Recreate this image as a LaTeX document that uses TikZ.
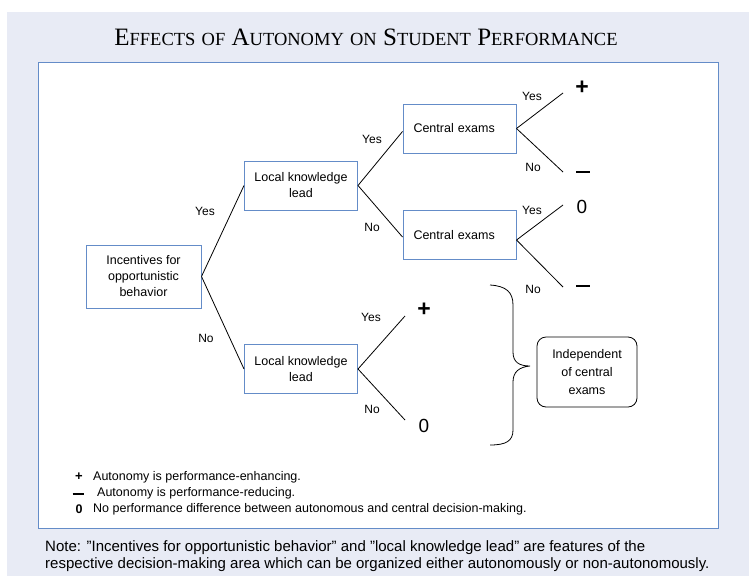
\documentclass[tikz,border=0pt]{standalone}
\usepackage{fontspec}
\setmainfont{Liberation Sans}
\newfontfamily\titlefont{Liberation Serif}
\usetikzlibrary{calc}

\definecolor{pagebg}{RGB}{232,235,245}
\definecolor{boxblue}{RGB}{100,140,200}

\newcommand{\capsword}[2]{{\fontsize{25}{25}\selectfont #1}{\fontsize{18.5}{20}\selectfont #2}}

\begin{document}
\begin{tikzpicture}[x=1pt,y=-1pt,
	box/.style={draw=boxblue,line width=1pt,minimum width=113pt,minimum height=49pt,align=center,inner sep=2pt,font=\fontsize{12.5}{16}\selectfont},
	lbl/.style={font=\fontsize{12}{14}\selectfont,inner sep=0pt},
	sym/.style={font=\fontsize{19}{19}\selectfont,inner sep=0pt},
	branch/.style={line width=0.8pt}]
	\useasboundingbox (0,0) rectangle (749,576);
	\fill[pagebg] (7,12) rectangle (749,576);
	\draw[boxblue,fill=white,line width=1pt] (38,62) rectangle (718,528);
	\node (title) at (366,37) {\titlefont\fontsize{25}{25}\selectfont\capsword{E}{FFECTS} \capsword{}{OF} \capsword{A}{UTONOMY} \capsword{}{ON} \capsword{S}{TUDENT} \capsword{P}{ERFORMANCE}};
	% decision boxes
	\draw (143.5,276.5) node (incent) [box,minimum width=115pt,minimum height=63pt] {Incentives for\\opportunistic\\behavior};
	\draw (301,185.5) node (localyes) [box] {Local knowledge\\lead};
	\draw (301,369) node (localno) [box] {Local knowledge\\lead};
	\draw (459.5,128.5) node (examyes) [box,text width=92pt,inner xsep=10pt,align=left] {Central exams};
	\draw (459.5,235) node (examno) [box,text width=92pt,inner xsep=10pt,align=left] {Central exams};
	\draw (587,372) node (indep) [draw,rounded corners=9pt,line width=0.8pt,minimum width=100pt,minimum height=70pt,align=center,font=\fontsize{12.5}{18}\selectfont] {Independent\\of central\\exams};
	% branch ends
	\coordinate (e1) at (563,93);
	\coordinate (e2) at (563,172);
	\coordinate (e3) at (563,205);
	\coordinate (e4) at (563,287);
	\coordinate (e5) at (405,316);
	\coordinate (e6) at (405,420);
	\path[branch] (incent.east) edge (localyes.west);
	\path[branch] (incent.east) edge (localno.west);
	\path[branch] (localyes.east) edge ($(examyes.west)+(0,3)$);
	\path[branch] (localyes.east) edge ($(examno.west)+(0,2)$);
	\path[branch] (examyes.east) edge (e1);
	\path[branch] (examyes.east) edge (e2);
	\path[branch] ($(examno.east)+(0,5)$) edge (e3);
	\path[branch] ($(examno.east)+(0,5)$) edge (e4);
	\path[branch] (localno.east) edge (e5);
	\path[branch] (localno.east) edge (e6);
	% yes/no labels
	\node[lbl] (l1) at (205,211) {Yes};
	\node[lbl] (l2) at (206,338) {No};
	\node[lbl] (l3) at (372,139) {Yes};
	\node[lbl] (l4) at (372,227) {No};
	\node[lbl] (l5) at (532,96) {Yes};
	\node[lbl] (l6) at (533,167) {No};
	\node[lbl] (l7) at (532,210) {Yes};
	\node[lbl] (l8) at (533,289) {No};
	\node[lbl] (l9) at (371,317) {Yes};
	\node[lbl] (l10) at (372,409) {No};
	% outcomes
	\node[sym,font=\bfseries\fontsize{23}{23}\selectfont] (s1) at (582,88) {+};
	\node[sym] (s2) at (583,172) {\rule{14pt}{2.2pt}};
	\node[sym] (s3) at (582,207) {0};
	\node[sym] (s4) at (583,286) {\rule{14pt}{2.2pt}};
	\node[sym,font=\bfseries\fontsize{23}{23}\selectfont] (s5) at (424,310) {+};
	\node[sym] (s6) at (424,426) {0};
	% brace
	\draw[line width=0.8pt] (490,285) .. controls (506,286) and (513,292) .. (513,305) -- (513,352)
		.. controls (513,362) and (519,366) .. (530,366) .. controls (519,367) and (513,372) .. (513,382)
		-- (513,430) .. controls (513,441) and (506,445) .. (490,445);
	% legend
	\node[lbl,font=\bfseries\fontsize{13}{14}\selectfont] (k1) at (79,477) {+};
	\node[lbl] (k2) at (78,494) {\rule{11pt}{1.8pt}};
	\node[lbl,font=\bfseries\fontsize{12.5}{14}\selectfont] (k3) at (79,509) {0};
	\node[lbl,anchor=west,font=\fontsize{12.5}{14}\selectfont] (t1) at (93,477) {Autonomy is performance-enhancing.};
	\node[lbl,anchor=west,font=\fontsize{12.5}{14}\selectfont] (t2) at (97,493) {Autonomy is performance-reducing.};
	\node[lbl,anchor=west,font=\fontsize{12.5}{14}\selectfont] (t3) at (93,509) {No performance difference between autonomous and central decision-making.};
	% note
	\node[anchor=north west,align=left,inner sep=0pt,font=\fontsize{15}{17}\selectfont] (note) at (45,540) {Note: "Incentives for opportunistic behavior" and "local knowledge lead" are features of the\\respective decision-making area which can be organized either autonomously or non-autonomously.};
\end{tikzpicture}
\end{document}
